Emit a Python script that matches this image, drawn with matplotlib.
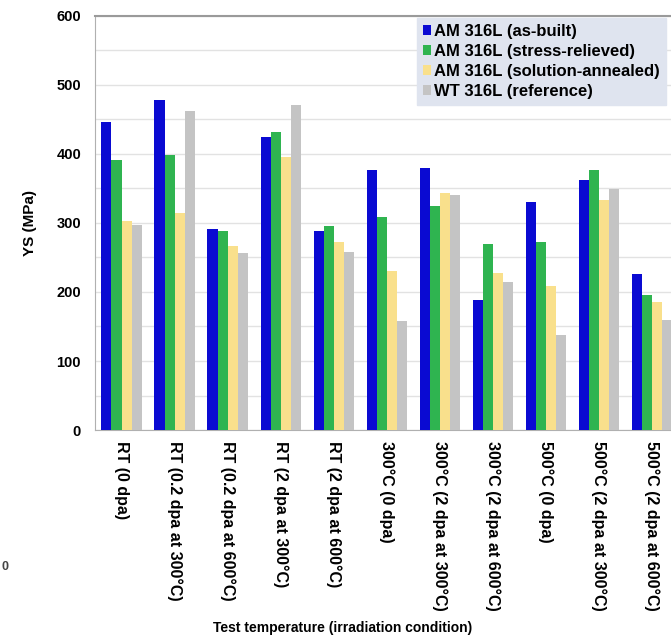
"""Yield strength of AM and wrought 316L by test temperature / irradiation condition."""

import matplotlib

matplotlib.use("Agg")
import matplotlib.pyplot as plt  # noqa: E402
import numpy as np  # noqa: E402

conditions = [
    "RT (0 dpa)",
    "RT (0.2 dpa at 300°C)",
    "RT (0.2 dpa at 600°C)",
    "RT (2 dpa at 300°C)",
    "RT (2 dpa at 600°C)",
    "300°C (0 dpa)",
    "300°C (2 dpa at 300°C)",
    "300°C (2 dpa at 600°C)",
    "500°C (0 dpa)",
    "500°C (2 dpa at 300°C)",
    "500°C (2 dpa at 600°C)",
]
series_names = [
    "AM 316L (as-built)",
    "AM 316L (stress-relieved)",
    "AM 316L (solution-annealed)",
    "WT 316L (reference)",
]
as_built = [446, 478, 291, 424, 288, 376, 380, 189, 330, 362, 226]
stress_relieved = [391, 399, 288, 431, 296, 309, 325, 270, 272, 377, 196]
solution_annealed = [302, 314, 267, 395, 273, 230, 343, 228, 208, 333, 186]
wrought = [297, 462, 257, 470, 258, 158, 341, 215, 138, 349, 160]
y_ticks = [0, 100, 200, 300, 400, 500, 600]

colors = ["#0a0ad2", "#2fb450", "#f9e08c", "#c4c4c4"]

plt.rcParams["font.family"] = ["Liberation Sans", "DejaVu Sans"]
plt.rcParams["font.weight"] = "bold"

fig = plt.figure(figsize=(6.71, 6.4), dpi=100)
ax = fig.add_axes([0.1416, 0.328, 0.8696, 0.6475])

x = np.arange(len(conditions))
width = 0.19
all_series = [as_built, stress_relieved, solution_annealed, wrought]
for i, (values, name, color) in enumerate(zip(all_series, series_names, colors)):
    ax.bar(x + (i - 1.5) * width, values, width, color=color, label=name, zorder=3)

ax.set_xlim(-0.5, len(conditions) - 0.5)
ax.set_ylim(0, 600)
ax.set_yticks(y_ticks)
ax.set_yticks(np.arange(0, 601, 50), minor=True)
ax.grid(axis="y", which="both", color="#e2e2e2", linewidth=1.0, zorder=0)
ax.tick_params(axis="y", which="both", length=0, pad=10, labelsize=10.5)
ax.tick_params(axis="x", length=0, pad=8, labelsize=11.5)
ax.set_xticks(x)
ax.set_xticklabels(conditions, rotation=-90, va="top", ha="center")

for side in ["left", "bottom"]:
    ax.spines[side].set_color("#b0b0b0")
ax.spines["top"].set_color("#9a9a9a")
ax.spines["top"].set_linewidth(1.5)
ax.spines["right"].set_visible(False)

ax.set_ylabel("YS (MPa)", fontsize=11, fontweight="bold", labelpad=14)
fig.text(0.51, 0.019, "Test temperature (irradiation condition)",
         ha="center", va="center", fontsize=10, fontweight="bold")

leg = fig.legend(
    loc="upper left",
    bbox_to_anchor=(0.621, 0.972),
    fontsize=12,
    frameon=True,
    fancybox=False,
    handlelength=0.5,
    handleheight=0.5,
    handletextpad=0.2,
    labelspacing=0.3,
    borderpad=0.35,
    borderaxespad=0.0,
)
leg.get_frame().set_facecolor("#dfe4ef")
leg.get_frame().set_edgecolor("#dfe4ef")
leg.get_frame().set_alpha(1.0)

# stray tick label from a neighbouring panel at the far left edge
fig.text(0.002, 0.114, "0", ha="left", va="center", fontsize=9, color="#444444")

fig.savefig("out.png", dpi=100)
